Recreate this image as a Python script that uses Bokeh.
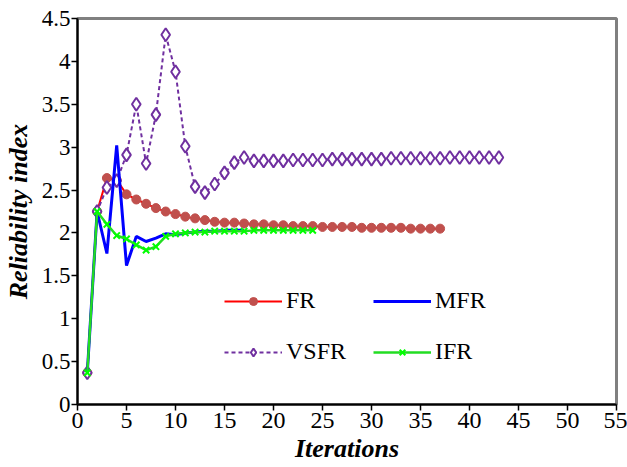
from bokeh.plotting import figure
from bokeh.models import FixedTicker, Legend, LegendItem, Range1d
from bokeh.embed import file_html
from bokeh.resources import INLINE

# ---- data ----
fr_x = list(range(1, 38))
fr_y = [0.37, 2.25, 2.64, 2.62, 2.45, 2.39, 2.34, 2.29, 2.25, 2.22, 2.19, 2.17, 2.15,
        2.13, 2.12, 2.12, 2.11, 2.10, 2.10, 2.09, 2.09, 2.08, 2.08, 2.08, 2.07, 2.07,
        2.07, 2.07, 2.06, 2.06, 2.06, 2.06, 2.06, 2.05, 2.05, 2.05, 2.05]

vsfr_x = list(range(1, 44))
vsfr_y = [0.37, 2.25, 2.53, 2.61, 2.91, 3.50, 2.81, 3.38, 4.31, 3.88, 3.01, 2.54, 2.47,
          2.57, 2.70, 2.82, 2.88, 2.84, 2.84, 2.84, 2.84, 2.85, 2.85, 2.85, 2.85, 2.86,
          2.86, 2.86, 2.86, 2.86, 2.86, 2.87, 2.87, 2.87, 2.87, 2.87, 2.87, 2.88, 2.88,
          2.88, 2.88, 2.88, 2.88]

mfr_x = list(range(1, 18))
mfr_y = [0.37, 2.25, 1.76, 3.02, 1.62, 1.96, 1.90, 1.94, 1.99, 1.98, 2.00, 2.01, 2.02,
         2.02, 2.03, 2.03, 2.03]

ifr_x = list(range(1, 25))
ifr_y = [0.37, 2.25, 2.10, 1.97, 1.93, 1.86, 1.80, 1.84, 1.96, 1.99, 2.00, 2.01, 2.01,
         2.02, 2.02, 2.02, 2.02, 2.03, 2.03, 2.03, 2.03, 2.03, 2.03, 2.03]

x_ticks = [0, 5, 10, 15, 20, 25, 30, 35, 40, 45, 50, 55]
y_ticks = [0, 0.5, 1, 1.5, 2, 2.5, 3, 3.5, 4, 4.5]
y_tick_labels = ["0", "0.5", "1", "1.5", "2", "2.5", "3", "3.5", "4", "4.5"]

SERIF = "Liberation Serif"

p = figure(width=627, height=467, output_backend="svg", toolbar_location=None,
           x_range=Range1d(0, 55), y_range=Range1d(0, 4.5),
           min_border_left=72, min_border_right=11, min_border_top=18, min_border_bottom=63)
p.grid.visible = False
p.outline_line_color = "#808080"
p.outline_line_width = 3

p.xaxis.axis_line_color = "black"
p.yaxis.axis_line_color = "black"
p.xaxis.axis_line_width = 2
p.yaxis.axis_line_width = 2
p.xaxis.major_tick_line_color = "black"
p.yaxis.major_tick_line_color = "black"
p.xaxis.major_tick_line_width = 1.5
p.yaxis.major_tick_line_width = 1.5
p.xaxis.major_tick_out = 6
p.yaxis.major_tick_out = 6
p.xaxis.major_tick_in = 0
p.yaxis.major_tick_in = 0
p.xaxis.minor_tick_line_color = None
p.yaxis.minor_tick_line_color = None

p.xaxis.major_label_text_font = SERIF
p.yaxis.major_label_text_font = SERIF
p.xaxis.major_label_text_color = "black"
p.yaxis.major_label_text_color = "black"
p.xaxis.major_label_text_font_size = "24px"
p.yaxis.major_label_text_font_size = "23px"
p.xaxis.major_label_standoff = 2
p.yaxis.major_label_standoff = 1

p.xaxis.axis_label = "Iterations"
p.yaxis.axis_label = "Reliability index"
p.xaxis.axis_label_text_font = SERIF
p.yaxis.axis_label_text_font = SERIF
p.xaxis.axis_label_text_font_style = "bold italic"
p.yaxis.axis_label_text_font_style = "bold italic"
p.xaxis.axis_label_text_color = "black"
p.yaxis.axis_label_text_color = "black"
p.xaxis.axis_label_text_font_size = "26px"
p.yaxis.axis_label_text_font_size = "26px"
p.xaxis.axis_label_standoff = 3
p.yaxis.axis_label_standoff = 6

p.xaxis.ticker = FixedTicker(ticks=x_ticks)
p.yaxis.ticker = FixedTicker(ticks=y_ticks)
p.yaxis.major_label_overrides = {t: s for t, s in zip(y_ticks, y_tick_labels)}

# ---- series ----
fr_line = p.line(fr_x, fr_y, line_color="#FF0000", line_width=2)
fr_pts = p.scatter(fr_x, fr_y, marker="circle", size=9, fill_color="#C0504D",
                   line_color="#C0504D")

vs_line = p.line(vsfr_x, vsfr_y, line_color="#7030A0", line_width=2, line_dash="4 3")
vs_pts = p.scatter(vsfr_x, vsfr_y, marker="diamond", size=13, fill_color="white",
                   line_color="#7030A0", line_width=2)

mfr_line = p.line(mfr_x, mfr_y, line_color="#0000FF", line_width=3)

ifr_line = p.line(ifr_x, ifr_y, line_color="#22DD22", line_width=2.5)
ifr_pts = p.scatter(ifr_x, ifr_y, marker="x", size=9, line_color="#00FF00", line_width=2)


def make_legend(items, x, y):
    return Legend(items=items, location=(x, y), orientation="vertical",
                  background_fill_alpha=0, border_line_color=None,
                  label_text_font=SERIF, label_text_font_size="24px",
                  label_text_color="black", glyph_width=58, glyph_height=20,
                  label_height=24, spacing=24, label_standoff=4, padding=0, margin=0)


leg1 = make_legend([LegendItem(label="FR", renderers=[fr_line, fr_pts]),
                    LegendItem(label="VSFR", renderers=[vs_line, vs_pts])], 147, 39)
leg2 = make_legend([LegendItem(label="MFR", renderers=[mfr_line]),
                    LegendItem(label="IFR", renderers=[ifr_line, ifr_pts])], 296, 39)
p.add_layout(leg1, "center")
p.add_layout(leg2, "center")

open("out.html", "w").write(file_html(p, INLINE))
